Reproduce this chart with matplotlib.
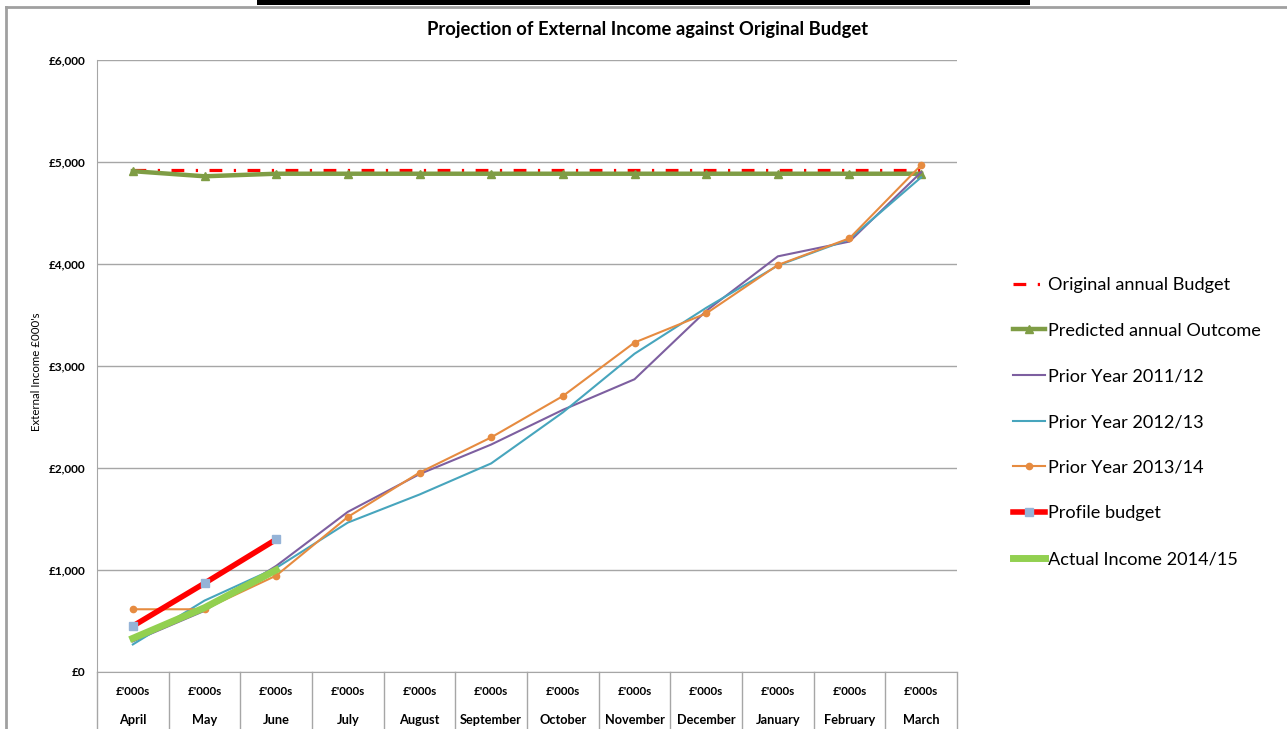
import matplotlib
matplotlib.use("Agg")
import matplotlib.pyplot as plt
from matplotlib.lines import Line2D
from matplotlib.patches import Rectangle

plt.rcParams["font.family"] = ["Lato", "DejaVu Sans"]

months = ["April", "May", "June", "July", "August", "September", "October",
          "November", "December", "January", "February", "March"]
unit_label = "£'000s"

original_budget = [4920] * 12
predicted_outcome = [4910, 4860, 4885, 4885, 4885, 4885, 4885, 4885, 4885, 4885, 4885, 4885]
prior_2011 = [300, 600, 1040, 1570, 1940, 2230, 2570, 2870, 3540, 4075, 4220, 4900]
prior_2012 = [270, 700, 1020, 1465, 1740, 2045, 2545, 3120, 3570, 3985, 4245, 4850]
prior_2013 = [615, 615, 945, 1520, 1955, 2300, 2705, 3230, 3515, 3990, 4252, 4970]
profile_budget = [450, 870, 1300]
actual_income = [330, 630, 1000]

yticks = [0, 1000, 2000, 3000, 4000, 5000, 6000]
ytick_labels = ["£0", "£1,000", "£2,000", "£3,000", "£4,000", "£5,000", "£6,000"]

W, H = 1287, 729
fig = plt.figure(figsize=(W / 100, H / 100), dpi=100)
fig.patch.set_facecolor("white")

# document furniture around the chart object
fig.add_artist(Rectangle((257 / W, 1 - 5 / H), (1030 - 257) / W, 5 / H,
                         transform=fig.transFigure, color="black", lw=0))
fig.add_artist(Line2D([6 / W, 1], [1 - 6.5 / H] * 2, transform=fig.transFigure,
                      color="#a0a0a0", lw=2))
fig.add_artist(Line2D([6 / W] * 2, [0, 1 - 6.5 / H], transform=fig.transFigure,
                      color="#a0a0a0", lw=2))

ax = fig.add_axes([97 / W, (H - 672) / H, (957 - 97) / W, (672 - 60) / H])
x = list(range(len(months)))

ax.set_xlim(-0.5, 11.5)
ax.set_ylim(0, 6000)
ax.set_yticks(yticks)
ax.set_yticklabels(ytick_labels, fontsize=8.5, fontweight="bold")
ax.tick_params(axis="y", length=0, pad=8.5)
ax.set_xticks([])
for s in ["top", "right"]:
    ax.spines[s].set_visible(False)
ax.spines["left"].set_color("#a6a6a6")
ax.spines["bottom"].set_color("#a6a6a6")
ax.grid(axis="y", color="#a6a6a6", lw=1)
ax.set_axisbelow(True)

# category axis: two label rows with separators
xt = ax.get_xaxis_transform()
for i, m in enumerate(months):
    ax.text(i, -0.032, unit_label, transform=xt, ha="center", va="center",
            fontsize=8.4, fontweight="bold")
    ax.text(i, -0.078, m, transform=xt, ha="center", va="center",
            fontsize=9.2, fontweight="bold")
for b in [i - 0.5 for i in range(13)]:
    ax.plot([b, b], [0, -0.2], transform=xt, color="#a6a6a6", lw=1, clip_on=False)
ax.spines["left"].set_bounds(0, 6000)

ax.set_ylabel("External Income £000's", fontsize=8.3)
ax.yaxis.set_label_coords(-0.064, 0.49)

fig.text(648 / W, 1 - 29 / H, "Projection of External Income against Original Budget",
         ha="center", va="center", fontsize=13.2, fontweight="bold")

h1, = ax.plot(x, original_budget, color="#ff0000", lw=2.3,
              linestyle=(0, (4.0, 3.6, 0.7, 3.6)), label="Original annual Budget")
h2, = ax.plot(x, predicted_outcome, color="#7f9d45", lw=3.2, marker="^",
              markersize=6, label="Predicted annual Outcome")
h3, = ax.plot(x, prior_2011, color="#7d5fa0", lw=1.5, label="Prior Year 2011/12")
h4, = ax.plot(x, prior_2012, color="#47a5bd", lw=1.5, label="Prior Year 2012/13")
h5, = ax.plot(x, prior_2013, color="#e68b40", lw=1.5, marker="o", markersize=4.5,
              label="Prior Year 2013/14")
h6, = ax.plot(x[:3], profile_budget, color="#ff0000", lw=4, marker="s",
              markersize=5.5, markerfacecolor="#95b3d7", markeredgecolor="#95b3d7",
              label="Profile budget")
h7, = ax.plot(x[:3], actual_income, color="#92d050", lw=5, label="Actual Income 2014/15")

fig.legend(handles=[h1, h2, h3, h4, h5, h6, h7], loc="upper left",
           bbox_to_anchor=(1004 / W, 1 - 268 / H), frameon=False, fontsize=13.1,
           handlelength=1.75, handletextpad=0.15, labelspacing=1.63, borderpad=0)

fig.savefig("out.png", dpi=100, facecolor="white")
